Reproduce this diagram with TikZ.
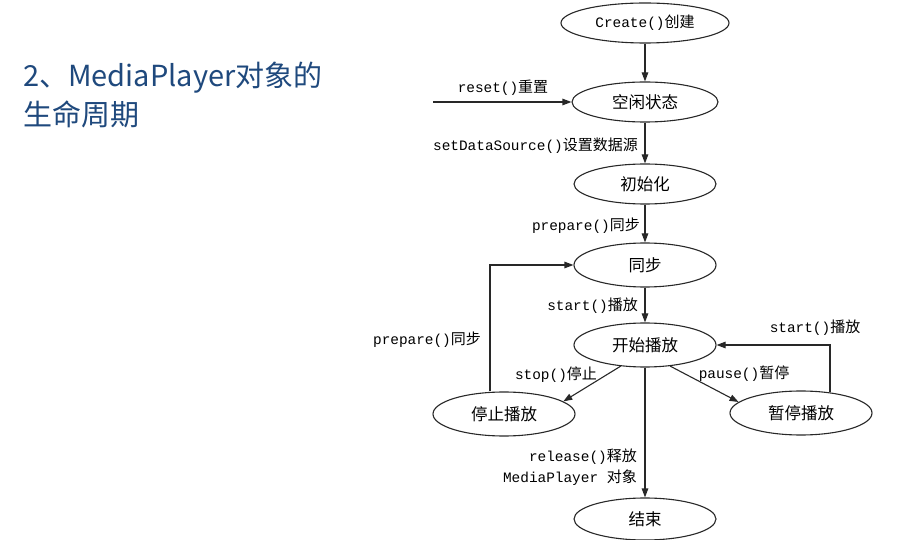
\documentclass[tikz,border=0pt]{standalone}
\usepackage{fontspec}
\usetikzlibrary{shapes.geometric,arrows.meta}
\newfontfamily\cjk{Noto Sans CJK SC}
\newfontfamily\mono{Liberation Mono}
\definecolor{titleblue}{RGB}{31,73,125}
\definecolor{ink}{RGB}{40,40,40}
\newcommand{\lbl}[2]{{\mono\fontsize{14.4}{16}\selectfont #1}{\cjk\fontsize{15}{16}\selectfont #2}}
\begin{document}
\begin{tikzpicture}[x=1pt,y=-1pt,
  state/.style={ellipse,draw=ink,line width=1.1pt,fill=white,inner sep=0pt,
    minimum width=142pt,minimum height=42pt,font=\cjk\fontsize{16.5}{18}\selectfont},
  arr/.style={draw=ink,line width=1.1pt,-{Triangle[length=9pt,width=6.5pt]}},
  lab/.style={inner sep=0pt,text=black},
  ttl/.style={anchor=west,inner sep=0pt,text=titleblue,font=\cjk\fontsize{29}{32}\selectfont}]
\useasboundingbox[fill=white] (0,0) rectangle (914,540);

% title
\node[ttl] (t1) at (23,78) {2、MediaPlayer对象的};
\node[ttl] (t2) at (23,114) {生命周期};

% states
\node[state,minimum width=168pt,minimum height=40pt] (create) at (645,23) {\lbl{Create()}{创建}};
\node[state,minimum width=146pt,minimum height=40pt] (idle) at (645,102) {空闲状态};
\node[state,minimum height=40pt] (init) at (645,184) {初始化};
\node[state,minimum height=44pt] (sync) at (645,265) {同步};
\node[state,minimum height=44pt] (play) at (645,345) {开始播放};
\node[state,minimum height=44pt] (stop) at (504,414) {停止播放};
\node[state,minimum height=44pt] (pause) at (801,413) {暂停播放};
\node[state,minimum height=42pt] (end) at (645,519) {结束};

\coordinate (r0) at (433,102);

% connectors
\draw[arr] (create) -- (idle);
\draw[arr] (r0) -- (idle.west);
\draw[arr] (idle) -- (init);
\draw[arr] (init) -- (sync);
\draw[arr] (sync) -- (play);
\draw[arr] (play) -- (end);
\draw[arr] (play.221) -- (stop.12);
\draw[arr] (play.-40) -- (pause.170);
\draw[arr] (stop.north) ++(-14,0) |- (sync.west);
\draw[arr] (pause.north) ++(29,2) |- (play.east);

% labels
\node[lab] (l1) at (503,88) {\lbl{reset()}{重置}};
\node[lab,anchor=east] (l2) at (638,146) {\lbl{setDataSource()}{设置数据源}};
\node[lab,anchor=east] (l3) at (640,226) {\lbl{prepare()}{同步}};
\node[lab,anchor=east] (l4) at (638,306) {\lbl{start()}{播放}};
\node[lab,anchor=east] (l5) at (637,457) {\lbl{release()}{释放}};
\node[lab,anchor=east] (l6) at (637,478) {\lbl{MediaPlayer }{对象}};
\node[lab] (l7) at (427,340) {\lbl{prepare()}{同步}};
\node[lab] (l8) at (556,375) {\lbl{stop()}{停止}};
\node[lab] (l9) at (744,374) {\lbl{pause()}{暂停}};
\node[lab] (l10) at (815,328) {\lbl{start()}{播放}};
\end{tikzpicture}
\end{document}
